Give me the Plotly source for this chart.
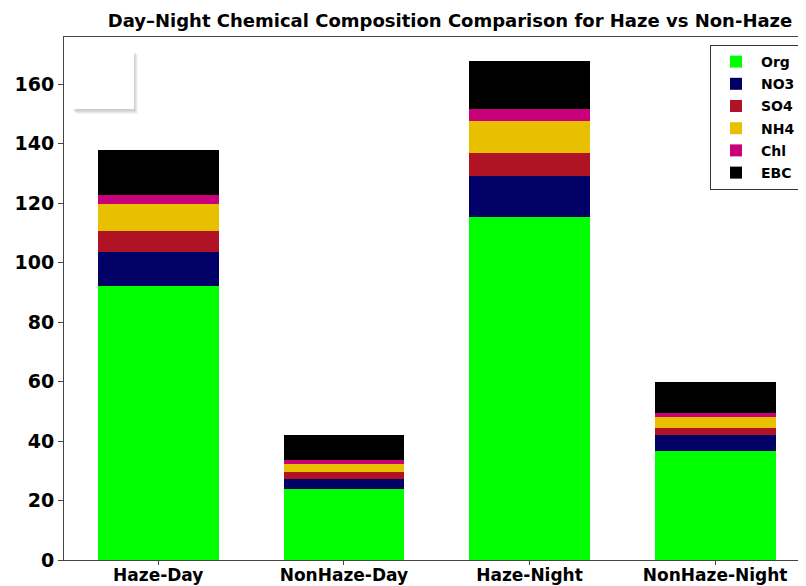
import plotly.graph_objects as go

categories = ["Haze-Day", "NonHaze-Day", "Haze-Night", "NonHaze-Night"]
species = ["Org", "NO3", "SO4", "NH4", "Chl", "EBC"]
org = [92.2, 23.7, 115.2, 36.6]
no3 = [11.4, 3.5, 14.0, 5.4]
so4 = [6.9, 2.4, 7.5, 2.5]
nh4 = [9.1, 2.8, 10.9, 3.5]
chl = [3.2, 1.3, 4.1, 1.5]
ebc = [15.0, 8.4, 15.9, 10.5]
yticks = [0, 20, 40, 60, 80, 100, 120, 140, 160]

colors = ["#00ff00", "#000066", "#b01424", "#e8c000", "#c8007a", "#000000"]
values = [org, no3, so4, nh4, chl, ebc]

# page has an 8px body margin: figure occupies screen 8..806 x 8..586
OFF = 8
SW, SH = 806, 586
W, H = SW - OFF, SH - OFF
# plot area in screen pixels
PL, PT, PB, PR = 64, 37, 560, 806
L, T, B, R = PL - OFF, PT - OFF, SH - PB, SW - PR

fig = go.Figure()
for name, vals, c in zip(species, values, colors):
    fig.add_trace(go.Bar(x=categories, y=vals, name=name, legendgroup=name,
                         marker=dict(color=c, line=dict(width=0))))

font = dict(family="DejaVu Sans", color="black", weight="bold")

def px_x(x):
    return (x - PL) / (PR - PL)

def px_y(y):
    return (PB - y) / (PB - PT)

fig.update_layout(
    width=W, height=H,
    barmode="stack", bargap=0.35,
    plot_bgcolor="white", paper_bgcolor="white",
    margin=dict(l=L, r=R, t=T, b=B, pad=0, autoexpand=False),
    font=font,
    title=dict(text="Day\u2013Night Chemical Composition Comparison for Haze vs Non-Haze",
               x=(450 - OFF) / W, xanchor="center", y=1 - (21 - OFF) / H, yanchor="middle",
               xref="container", yref="container",
               font=dict(family="DejaVu Sans", size=18, color="black", weight="bold")),
    xaxis=dict(range=[-0.5075, 3.0 + (PR - 715) / 186.0], showline=True, linecolor="#444", linewidth=1,
               mirror=True, ticks="outside", ticklen=4, tickcolor="#444", showgrid=False, automargin=False,
               ticklabelstandoff=-4,
               tickfont=dict(family="DejaVu Sans", size=17, color="black", weight="bold")),
    yaxis=dict(range=[0, 175.8], tickvals=yticks, showline=True, linecolor="#444", linewidth=1,
               mirror=True, ticks="outside", ticklen=5, tickcolor="#444", showgrid=False, zeroline=False,
               automargin=False,
               tickfont=dict(family="DejaVu Sans", size=19, color="black", weight="bold")),
    legend=dict(x=px_x(801), y=px_y(45), xanchor="right", yanchor="top",
                bordercolor="#333", borderwidth=1, bgcolor="white",
                font=dict(family="DejaVu Sans", size=14, color="black", weight="bold"),
                traceorder="grouped", tracegroupgap=1, itemwidth=40),
    showlegend=True,
)

# empty shadowed box at top-left (as in reference)
for dx, dy, a in [(1, 2, 0.05), (2, 3, 0.05), (3, 4, 0.05), (4, 5, 0.04)]:
    fig.add_shape(type="rect", xref="paper", yref="paper",
                  x0=px_x(72 + dx), x1=px_x(134 + dx), y0=px_y(109 + dy), y1=px_y(50 + dy),
                  fillcolor=f"rgba(0,0,0,{a})", line=dict(width=0), layer="above")
fig.add_shape(type="rect", xref="paper", yref="paper",
              x0=px_x(72), x1=px_x(134), y0=px_y(109), y1=px_y(50),
              fillcolor="white", line=dict(width=0), layer="above")

fig.write_html("out.html")
